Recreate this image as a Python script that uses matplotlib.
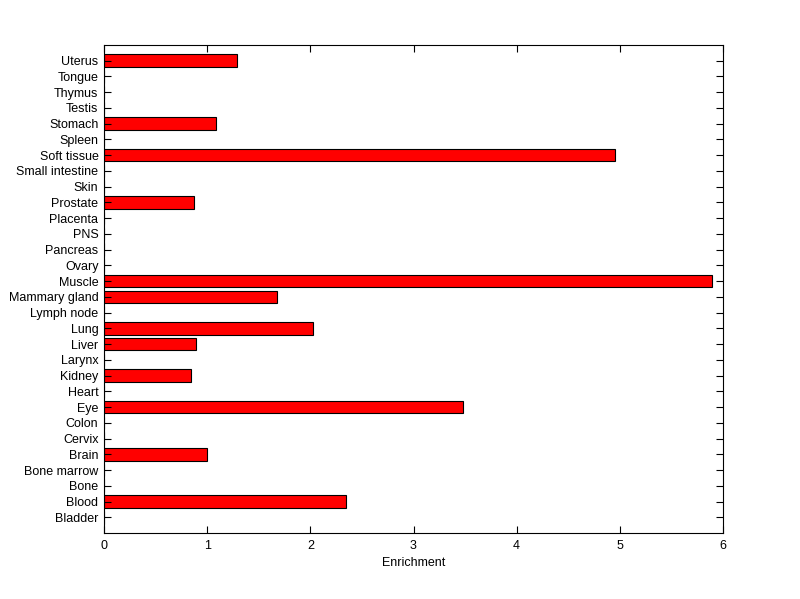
import matplotlib
matplotlib.use("Agg")
import matplotlib.pyplot as plt

# tissues, bottom to top
tissues = ["Bladder", "Blood", "Bone", "Bone marrow", "Brain", "Cervix", "Colon",
           "Eye", "Heart", "Kidney", "Larynx", "Liver", "Lung", "Lymph node",
           "Mammary gland", "Muscle", "Ovary", "Pancreas", "PNS", "Placenta",
           "Prostate", "Skin", "Small intestine", "Soft tissue", "Spleen",
           "Stomach", "Testis", "Thymus", "Tongue", "Uterus"]
enrichment = [0, 2.35, 0, 0, 1.0, 0, 0,
              3.48, 0, 0.84, 0, 0.89, 2.03, 0,
              1.68, 5.89, 0, 0, 0, 0,
              0.87, 0, 0, 4.95, 0,
              1.085, 0, 0, 0, 1.29]
x_ticks = [0, 1, 2, 3, 4, 5, 6]

plt.rcParams['font.family'] = ['Liberation Sans', 'DejaVu Sans']

fig = plt.figure(figsize=(8, 5.99), dpi=100)
ax = fig.add_axes([104 / 800, 1 - 533 / 599, (723 - 104) / 800, (533 - 45) / 599])

positions = list(range(1, len(tissues) + 1))
ax.barh(positions, enrichment, height=0.8, color='red', edgecolor='black', linewidth=0.8)

ax.set_xlim(0, 6)
ax.set_ylim(0, len(tissues) + 1)
ax.set_xticks(x_ticks)
ax.set_yticks(positions)
ax.set_yticklabels(tissues)
ax.set_xlabel('Enrichment', fontsize=9, labelpad=4)
ax.tick_params(direction='in', length=5, width=0.8, top=True, right=True,
               labelsize=9, colors='black')
ax.tick_params(axis='x', pad=5)
ax.tick_params(axis='y', pad=4)
for s in ax.spines.values():
    s.set_linewidth(0.8)

fig.savefig('out.png', dpi=100)
